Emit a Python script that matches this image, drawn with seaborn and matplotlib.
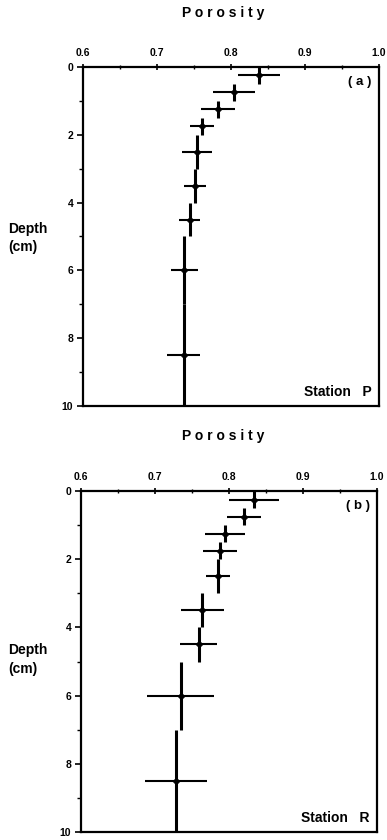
import matplotlib
matplotlib.use("Agg")
import matplotlib.pyplot as plt
from matplotlib.ticker import MultipleLocator
import seaborn as sns
import pandas as pd

# Depth intervals (cm) and midpoints
depth_top = [0.0, 0.5, 1.0, 1.5, 2.0, 3.0, 4.0, 5.0, 7.0]
depth_bottom = [0.5, 1.0, 1.5, 2.0, 3.0, 4.0, 5.0, 7.0, 10.0]
depth_mid = [0.25, 0.75, 1.25, 1.75, 2.5, 3.5, 4.5, 6.0, 8.5]

# Station P porosity and std
por_P = [0.838, 0.804, 0.782, 0.761, 0.754, 0.751, 0.744, 0.737, 0.736]
err_P = [0.028, 0.029, 0.023, 0.016, 0.020, 0.015, 0.014, 0.018, 0.022]

# Station R porosity and std
por_R = [0.834, 0.821, 0.795, 0.788, 0.785, 0.764, 0.759, 0.735, 0.728]
err_R = [0.034, 0.023, 0.027, 0.023, 0.016, 0.029, 0.025, 0.045, 0.042]

panels = ["( a )", "( b )"]
stations = ["Station   P", "Station   R"]

sns.set_style("white")
plt.rcParams['font.family'] = ['Liberation Sans', 'DejaVu Sans']
plt.rcParams['font.weight'] = 'bold'
plt.rcParams['text.color'] = 'black'
plt.rcParams['xtick.color'] = 'black'
plt.rcParams['ytick.color'] = 'black'
plt.rcParams['axes.labelcolor'] = 'black'

fig = plt.figure(figsize=(3.87, 8.4), dpi=100)
pos = [[0.2145, 0.5167, 0.765, 0.4036], [0.209, 0.0095, 0.765, 0.406]]
title_y = [0.984, 0.481]
depth_y = [0.717, 0.215]

for i, (por, err) in enumerate([(por_P, err_P), (por_R, err_R)]):
    ax = fig.add_axes(pos[i])
    df = pd.DataFrame({"depth": depth_mid, "porosity": por, "err": err,
                       "top": depth_top, "bottom": depth_bottom})
    yerr = [[m - t for m, t in zip(df.depth, df.top)],
            [b - m for m, b in zip(df.depth, df.bottom)]]
    ax.errorbar(df.porosity, df.depth, yerr=yerr, fmt='none', ecolor='black',
                elinewidth=2.2, capsize=0)
    ax.errorbar(df.porosity, df.depth, xerr=df.err, fmt='none', ecolor='black',
                elinewidth=1.5, capsize=0)
    sns.scatterplot(data=df, x="porosity", y="depth", ax=ax, marker='D', s=14,
                    color='black', edgecolor='black', zorder=5)
    ax.set_xlim(0.6, 1.0)
    ax.set_ylim(10, 0)
    ax.xaxis.tick_top()
    ax.set_xticks([0.6, 0.7, 0.8, 0.9, 1.0])
    ax.set_xticklabels(["0.6", "0.7", "0.8", "0.9", "1.0"])
    ax.xaxis.set_minor_locator(MultipleLocator(0.05))
    ax.set_yticks([0, 2, 4, 6, 8, 10])
    ax.set_yticklabels(["0", "2", "4", "6", "8", "10"])
    ax.yaxis.set_minor_locator(MultipleLocator(1))
    ax.tick_params(axis='x', which='major', direction='inout', length=5, width=1.2,
                   labelsize=7.5, pad=4, top=True, bottom=False)
    ax.tick_params(axis='x', which='minor', direction='inout', length=3, width=1.0,
                   top=True, bottom=False)
    ax.tick_params(axis='y', which='major', direction='out', length=4, width=1.2,
                   labelsize=7.5, pad=3, left=True)
    ax.tick_params(axis='y', which='minor', direction='out', length=3, width=1.0, left=True)
    for lab in ax.get_xticklabels() + ax.get_yticklabels():
        lab.set_fontweight('bold')
    for s in ax.spines.values():
        s.set_linewidth(1.6)
        s.set_color('black')
    ax.set_xlabel("")
    ax.set_ylabel("")
    ax.text(0.975, 0.955, panels[i], transform=ax.transAxes, ha='right', va='center',
            fontsize=9.5, fontweight='bold')
    ax.text(0.975, 0.04, stations[i], transform=ax.transAxes, ha='right', va='center',
            fontsize=10, fontweight='bold')
    fig.text(0.578, title_y[i], "P o r o s i t y", ha='center', va='center',
             fontsize=10, fontweight='bold')
    fig.text(0.022, depth_y[i], "Depth\n(cm)", ha='left', va='center',
             fontsize=10, fontweight='bold', linespacing=1.4)

fig.savefig("out.png", dpi=100)
